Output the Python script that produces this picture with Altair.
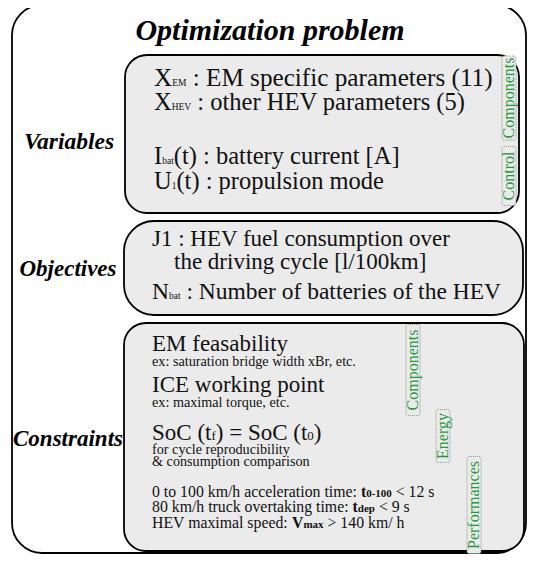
import altair as alt
import pandas as pd

# ---------------- content ----------------
title_text = "Optimization problem"
section_labels = ["Variables", "Objectives", "Constraints"]

# each line: list of (text, style)  style: r=regular, s=subscript, b=bold, bs=bold subscript
variables_lines = [
    [("X", "r"), ("EM", "s"), (" : EM specific parameters (11)", "r")],
    [("X", "r"), ("HEV", "s"), (" : other HEV parameters (5)", "r")],
    [("I", "r"), ("bat", "s"), ("(t) : battery current [A]", "r")],
    [("U", "r"), ("1", "s"), ("(t) : propulsion mode", "r")],
]
objectives_lines = [
    [("J1 : HEV fuel consumption over", "r")],
    [("the driving cycle [l/100km]", "r")],
    [("N", "r"), ("bat", "s"), (" : Number of batteries of the HEV", "r")],
]
constraints_lines = [
    [("EM feasability", "r")],
    [("ex: saturation bridge width xBr, etc.", "r")],
    [("ICE working point", "r")],
    [("ex: maximal torque, etc.", "r")],
    [("SoC (t", "r"), ("f", "s"), (") = SoC (t", "r"), ("0", "s"), (")", "r")],
    [("for cycle reproducibility", "r")],
    [("& consumption comparison", "r")],
    [("0 to 100 km/h acceleration time: ", "r"), ("t", "b"), ("0-100", "bs"), (" < 12 s", "r")],
    [("80 km/h truck overtaking time: ", "r"), ("t", "b"), ("dep", "bs"), (" < 9 s", "r")],
    [("HEV maximal speed: ", "r"), ("V", "b"), ("max", "bs"), (" > 140 km/ h", "r")],
]
tag_texts = ["Components", "Control", "Components", "Energy", "Performances"]

# ---------------- layout ----------------
var_x0, var_y = 154, [86, 110, 164, 189]
var_size, var_sub = [25.2, 24.5, 24.5, 24.5], [9.5, 9.5, 9.5, 9.5]
obj_x0 = [152, 174, 152]
obj_y = [246, 269, 299]
obj_size, obj_sub = [23, 23, 23.5], [9, 9, 9.5]
con_x0 = 152
con_y = [351, 366, 392, 407, 440, 454, 466, 497, 512, 528]
con_size = [23, 14.2, 23, 14.2, 23, 14.2, 14.2, 15.8, 15.8, 15.8]
con_sub = [9, 9, 9, 9, 13, 9, 9, 11, 11, 11]

tag_cx = [509, 509, 413, 443, 474]
tag_cy = [98, 176, 370, 436, 505]
tag_h = [84, 59, 91, 53, 97]
tag_w = 14

REG = {' ': 250, '!': 333, '&': 778, '(': 333, ')': 333, ',': 250, '-': 333, '.': 250,
       '/': 278, ':': 278, '<': 564, '=': 564, '>': 564, '[': 333, ']': 333}
for c in "0123456789":
    REG[c] = 500
REG.update(dict(A=722, B=667, C=667, D=722, E=611, F=556, G=722, H=722, I=333, J=389,
                K=722, L=611, M=889, N=722, O=722, P=556, Q=722, R=667, S=556, T=611,
                U=722, V=722, W=944, X=722, Y=722, Z=611, a=444, b=500, c=444, d=500,
                e=444, f=333, g=500, h=500, i=278, j=278, k=500, l=278, m=778, n=500,
                o=500, p=500, q=500, r=333, s=389, t=278, u=500, v=500, w=722, x=500,
                y=500, z=444))
BOLD = dict(REG)
BOLD.update({'t': 333, '-': 333, 'd': 556, 'e': 444, 'p': 556, 'V': 722, 'm': 833,
             'a': 500, 'x': 500})


def tw(s, size, bold=False):
    t = BOLD if bold else REG
    return sum(t.get(c, 500) for c in s) * size / 1000.0


reg_rows, bold_rows = [], []


def add_line(segs, x0, y, size, sub):
    x = x0
    for text, st in segs:
        fs = size if st in ("r", "b") else sub
        bold = st in ("b", "bs")
        stripped = text.lstrip(" ")
        lead = tw(text[: len(text) - len(stripped)], fs, bold)  # SVG drops leading spaces
        (bold_rows if bold else reg_rows).append(
            dict(text=stripped.rstrip(" "), x=x + lead, y=y, size=fs))
        x += tw(text, fs, bold)


for i, segs in enumerate(variables_lines):
    add_line(segs, var_x0, var_y[i], var_size[i], var_sub[i])
for i, segs in enumerate(objectives_lines):
    add_line(segs, obj_x0[i], obj_y[i], obj_size[i], obj_sub[i])
for i, segs in enumerate(constraints_lines):
    add_line(segs, con_x0, con_y[i], con_size[i], con_sub[i])

reg_df = pd.DataFrame(reg_rows)
bold_df = pd.DataFrame(bold_rows)

boxes = pd.DataFrame(dict(
    name=["outer", "variables", "objectives", "constraints"],
    x1=[12, 125, 124, 124], x2=[526, 519, 523, 524],
    y1=[5, 55, 221, 323], y2=[553, 213, 315, 551],
))
radius = dict(outer=30, variables=22, objectives=30, constraints=22)
fill = dict(outer="#ffffff", variables="#ebebeb", objectives="#ebebeb", constraints="#ebebeb")

tags = pd.DataFrame(dict(text=tag_texts, x=tag_cx, y=tag_cy,
                         x1=[c - tag_w / 2 for c in tag_cx], x2=[c + tag_w / 2 for c in tag_cx],
                         y1=[c - h / 2 for c, h in zip(tag_cy, tag_h)],
                         y2=[c + h / 2 for c, h in zip(tag_cy, tag_h)]))

heads = pd.DataFrame(dict(text=[title_text] + section_labels,
                          x=[270, 69, 68, 68], y=[40, 149, 276, 446],
                          size=[30, 23.5, 23, 23]))

xs = alt.Scale(domain=[8, 527])
ys = alt.Scale(domain=[8, 554], reverse=True)
FONT = "'Liberation Serif', 'Times New Roman', Times, serif"

layers = []
for name in boxes["name"]:
    layers.append(
        alt.Chart(boxes[boxes["name"] == name]).mark_rect(
            cornerRadius=radius[name], fill=fill[name], stroke="#000000", strokeWidth=1.8
        ).encode(
            x=alt.X("x1:Q", scale=xs, axis=None), x2="x2:Q",
            y=alt.Y("y1:Q", scale=ys, axis=None), y2="y2:Q",
        )
    )

layers.append(
    alt.Chart(tags).mark_rect(cornerRadius=2, fill="#ebebeb", stroke="#8a8a8a",
                              strokeWidth=0.9, strokeDash=[1, 1]).encode(
        x=alt.X("x1:Q", scale=xs, axis=None), x2="x2:Q",
        y=alt.Y("y1:Q", scale=ys, axis=None), y2="y2:Q",
    )
)
layers.append(
    alt.Chart(tags).mark_text(font=FONT, fontSize=16, angle=270, align="center",
                              baseline="middle", color="#1f9a3c").encode(
        x=alt.X("x:Q", scale=xs, axis=None), y=alt.Y("y:Q", scale=ys, axis=None),
        text="text:N",
    )
)
layers.append(
    alt.Chart(reg_df).mark_text(font=FONT, align="left", baseline="alphabetic",
                                color="#111111").encode(
        x=alt.X("x:Q", scale=xs, axis=None), y=alt.Y("y:Q", scale=ys, axis=None),
        text="text:N", size=alt.Size("size:Q", scale=None, legend=None),
    )
)
layers.append(
    alt.Chart(bold_df).mark_text(font=FONT, fontWeight="bold", align="left",
                                 baseline="alphabetic", color="#111111").encode(
        x=alt.X("x:Q", scale=xs, axis=None), y=alt.Y("y:Q", scale=ys, axis=None),
        text="text:N", size=alt.Size("size:Q", scale=None, legend=None),
    )
)
layers.append(
    alt.Chart(heads).mark_text(font=FONT, fontWeight="bold", fontStyle="italic",
                               align="center", baseline="alphabetic", color="#000000").encode(
        x=alt.X("x:Q", scale=xs, axis=None), y=alt.Y("y:Q", scale=ys, axis=None),
        text="text:N", size=alt.Size("size:Q", scale=None, legend=None),
    )
)

chart = alt.layer(*layers).properties(
    width=519, height=546, padding=0, autosize="none"
).configure_view(stroke=None)

chart.save("out.html", embed_options={"renderer": "svg", "actions": False})
